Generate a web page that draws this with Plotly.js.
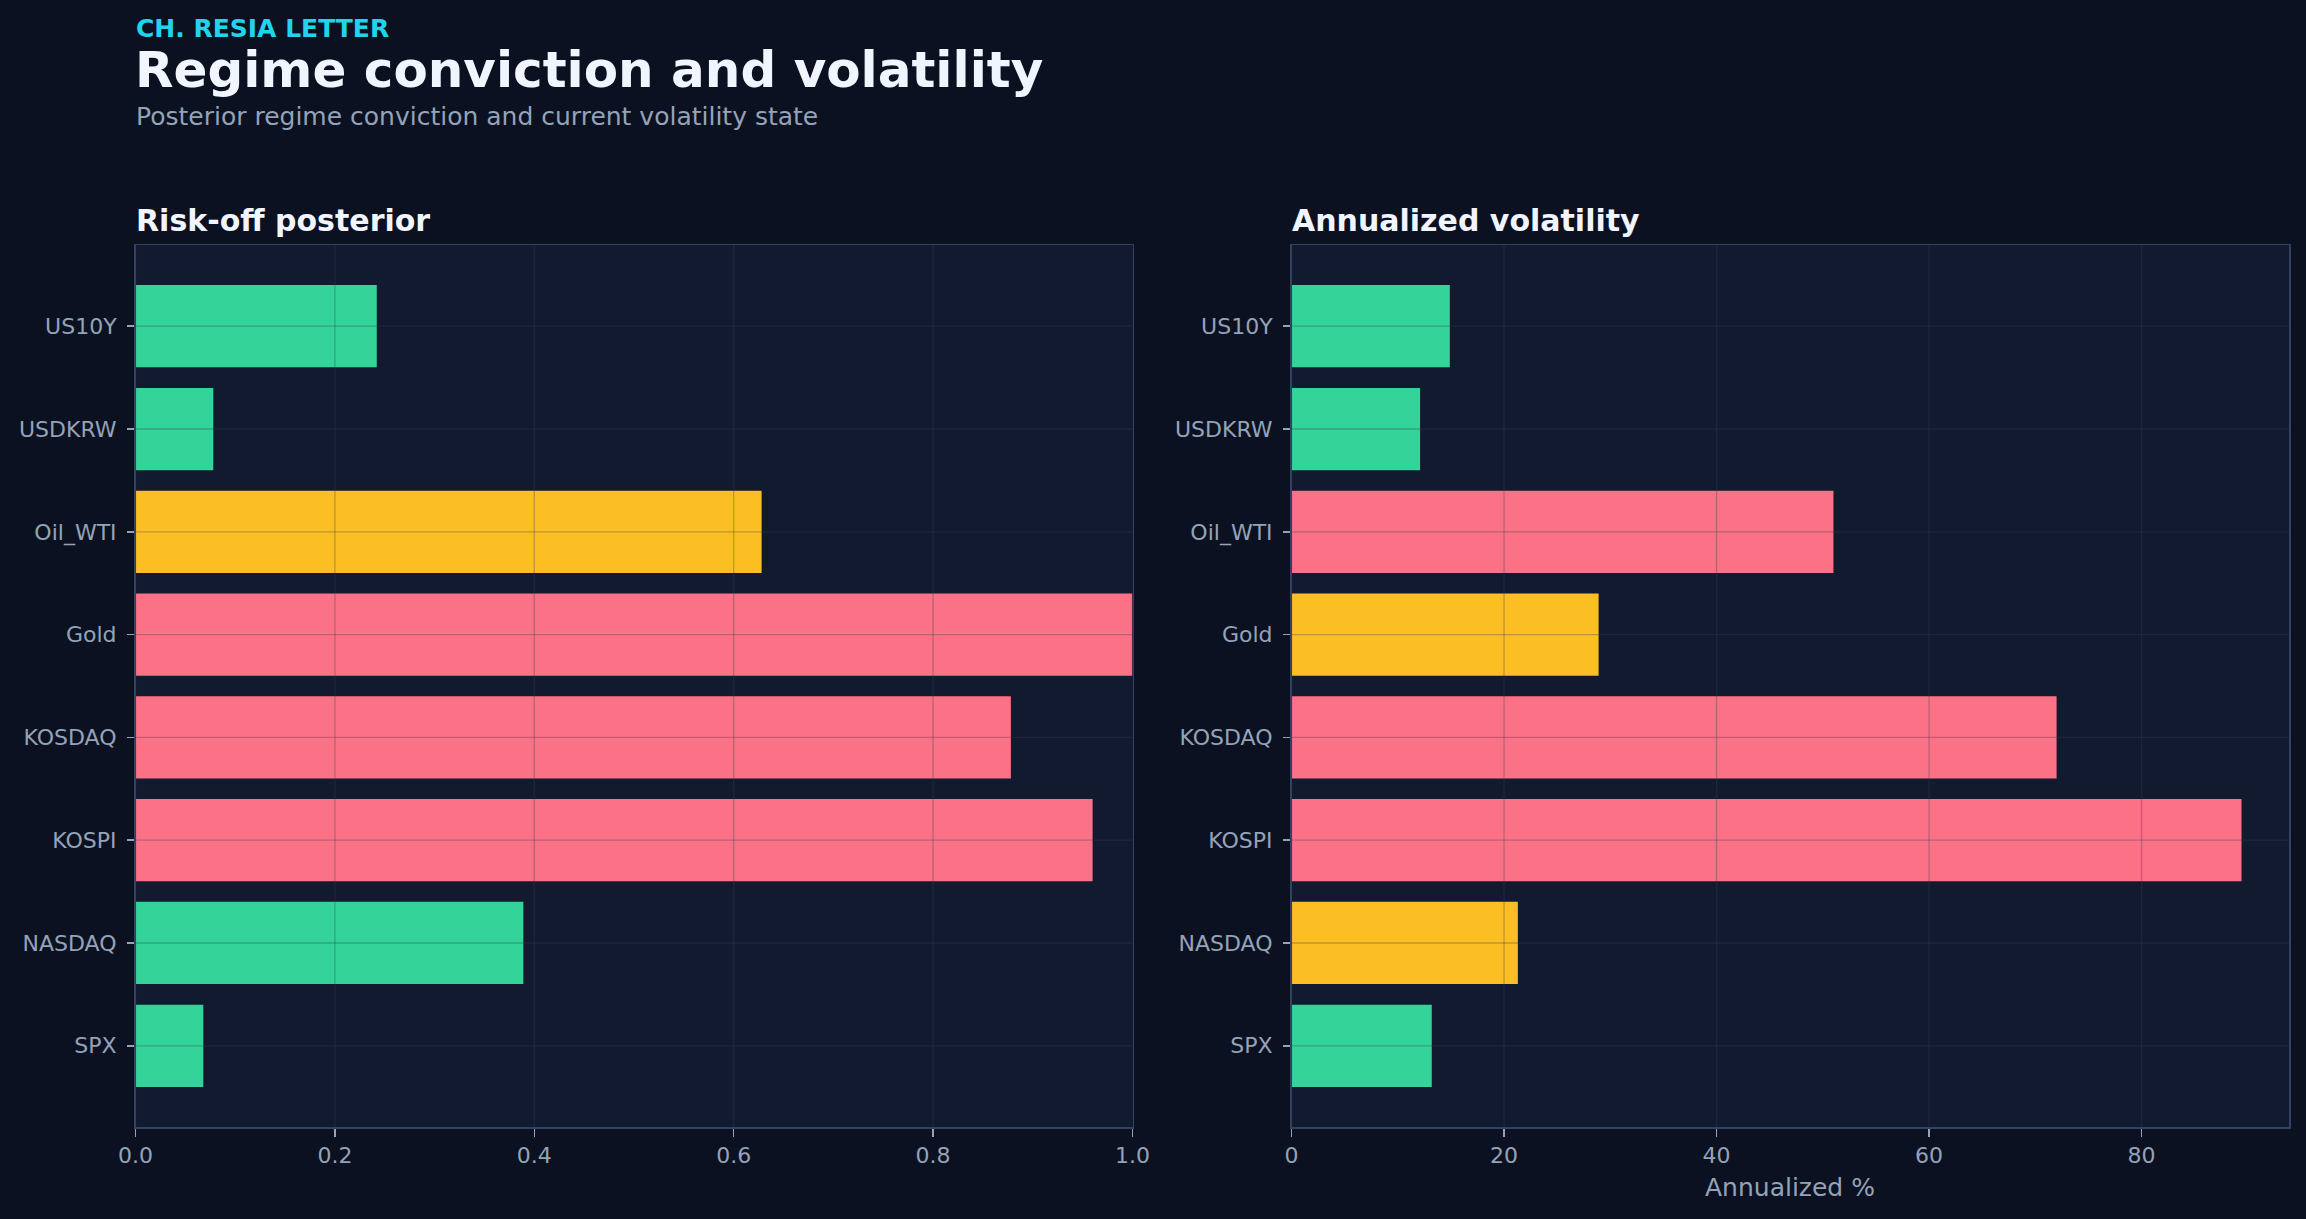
<!DOCTYPE html>
<html>
<head>
<meta charset="utf-8">
<script src="https://cdn.plot.ly/plotly-3.0.1.min.js"></script>
<style>
  html, body { margin: 0; padding: 0; background: #0b1120; }
  #chart { width: 2306px; height: 1219px; }
</style>
</head>
<body>
<div id="chart"></div>
<script>
// ---- data (bottom-to-top order on the category axis) ----
const assets = ["SPX", "NASDAQ", "KOSPI", "KOSDAQ", "Gold", "Oil_WTI", "USDKRW", "US10Y"];
const riskOffPosterior = [0.068, 0.389, 0.960, 0.878, 1.000, 0.628, 0.078, 0.242];
const riskOffState = ["calm", "calm", "stress", "stress", "stress", "elevated", "calm", "calm"];
const annualizedVol = [13.2, 21.3, 89.4, 72.0, 28.9, 51.0, 12.1, 14.9];
const volState = ["calm", "elevated", "stress", "stress", "elevated", "stress", "calm", "calm"];
const posteriorTicks = [0, 0.2, 0.4, 0.6, 0.8, 1.0];
const volTicks = [0, 20, 40, 60, 80];

const stateColors = { calm: "#34d399", elevated: "#fbbf24", stress: "#fb7185" };

const FONT = "DejaVu Sans, Verdana, sans-serif";
const TICK_COLOR = "#94a3b8";
const SPINE = "#334262";
const GRID = "rgba(51,65,85,0.32)";
const W = 2306, H = 1219;

const px = v => v / W;
const py = v => 1 - v / H;

const traces = [
  {
    type: "bar", orientation: "h",
    x: riskOffPosterior, y: assets,
    marker: { color: riskOffState.map(s => stateColors[s]), line: { width: 0 } },
    width: 0.8, xaxis: "x", yaxis: "y", hoverinfo: "x+y"
  },
  {
    type: "bar", orientation: "h",
    x: annualizedVol, y: assets,
    marker: { color: volState.map(s => stateColors[s]), line: { width: 0 } },
    width: 0.8, xaxis: "x2", yaxis: "y2", hoverinfo: "x+y"
  }
];

const volMax = Math.max(...annualizedVol) * 1.05;

const commonX = {
  showgrid: false, zeroline: false,
  showline: true, mirror: true, linecolor: SPINE, linewidth: 1.5,
  ticks: "outside", ticklen: 8, tickwidth: 1.5, tickcolor: TICK_COLOR,
  tickfont: { family: FONT, size: 22, color: TICK_COLOR },
  fixedrange: true
};
const commonY = {
  type: "category", categoryorder: "array", categoryarray: assets,
  range: [-0.79, assets.length - 1 + 0.79],
  showgrid: false, zeroline: false,
  showline: true, mirror: true, linecolor: SPINE, linewidth: 1.5,
  ticks: "outside", ticklen: 7, tickwidth: 1.5, tickcolor: TICK_COLOR,
  ticklabelstandoff: 6,
  tickfont: { family: FONT, size: 22, color: TICK_COLOR },
  fixedrange: true
};

// grid lines drawn above bars, derived from tick values and categories
const shapes = [];
posteriorTicks.forEach(t => shapes.push({
  type: "line", layer: "above", xref: "x", yref: "y domain",
  x0: t, x1: t, y0: 0, y1: 1, line: { color: GRID, width: 1.3 }
}));
volTicks.forEach(t => shapes.push({
  type: "line", layer: "above", xref: "x2", yref: "y2 domain",
  x0: t, x1: t, y0: 0, y1: 1, line: { color: GRID, width: 1.3 }
}));
assets.forEach(a => {
  shapes.push({ type: "line", layer: "above", xref: "x domain", yref: "y",
    x0: 0, x1: 1, y0: a, y1: a, line: { color: GRID, width: 1.3 } });
  shapes.push({ type: "line", layer: "above", xref: "x2 domain", yref: "y2",
    x0: 0, x1: 1, y0: a, y1: a, line: { color: GRID, width: 1.3 } });
});

const ann = (text, x, y, size, color, bold, xanchor) => ({
  text: bold ? "<b>" + text + "</b>" : text,
  xref: "paper", yref: "paper", x: x, y: y,
  xanchor: xanchor || "left", yanchor: "middle", showarrow: false,
  borderpad: 0, borderwidth: 0,
  font: { family: FONT, size: size, color: color }
});

const layout = {
  width: W, height: H, autosize: false,
  margin: { l: 0, r: 0, t: 0, b: 0, pad: 0 },
  paper_bgcolor: "#0b1120",
  plot_bgcolor: "#121a2f",
  showlegend: false,
  bargap: 0.2,
  xaxis: Object.assign({}, commonX, {
    domain: [px(135.5), px(1132.5)], anchor: "y",
    range: [0, 1], tickvals: posteriorTicks, tickformat: ".1f"
  }),
  yaxis: Object.assign({}, commonY, {
    domain: [py(1127), py(245)], anchor: "x"
  }),
  xaxis2: Object.assign({}, commonX, {
    domain: [px(1291.5), px(2289)], anchor: "y2",
    range: [0, volMax], tickvals: volTicks
  }),
  yaxis2: Object.assign({}, commonY, {
    domain: [py(1127), py(245)], anchor: "x2"
  }),
  shapes: shapes,
  annotations: [
    ann("CH. RESIA LETTER", px(136), py(28.7), 25, "#22d3ee", true),
    ann("Regime conviction and volatility", px(135), py(70), 50, "#f1f5ff", true),
    ann("Posterior regime conviction and current volatility state", px(136), py(116), 25, "#94a3b8", false),
    ann("Risk-off posterior", px(136), py(220), 30, "#f1f5ff", true),
    ann("Annualized volatility", px(1292), py(220), 30, "#f1f5ff", true),
    ann("Annualized %", px(1790), py(1187), 25, TICK_COLOR, false, "center")
  ]
};

Plotly.newPlot("chart", traces, layout, { displayModeBar: false, staticPlot: true });
</script>
</body>
</html>
